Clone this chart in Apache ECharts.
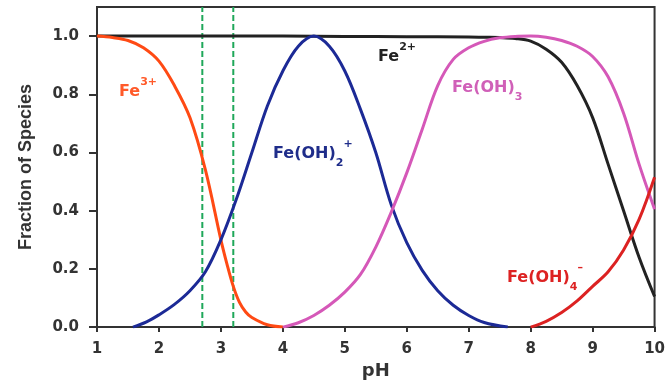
<!DOCTYPE html>
<html>
<head>
<meta charset="utf-8">
<script src="https://cdn.jsdelivr.net/npm/echarts@6/dist/echarts.min.js"></script>
<style>html,body{margin:0;padding:0;background:#fff}#c{width:668px;height:385px}</style>
</head>
<body>
<div id="c"></div>
<script>
// ---- data ----
const xTicks = [1, 2, 3, 4, 5, 6, 7, 8, 9, 10];
const yTicks = [0, 0.2, 0.4, 0.6, 0.8, 1.0];

const fe3pH  = [1, 1.25, 1.5, 1.75, 2.0, 2.25, 2.5, 2.75, 3.0, 3.1, 3.2, 3.3, 3.4, 3.5, 3.75, 4.0];
const fe3Val = [1.0, 0.995, 0.985, 0.96, 0.914, 0.83, 0.72, 0.54, 0.30, 0.215, 0.14, 0.085, 0.052, 0.033, 0.008, 0];

const fe2pH  = [1, 2, 3, 4, 5, 6, 7, 7.25, 7.5, 7.75, 8.0, 8.25, 8.5, 8.75, 9.0, 9.25, 9.5, 9.75, 10];
const fe2Val = [1.0, 1.0, 1.0, 1.0, 0.999, 0.998, 0.997, 0.996, 0.995, 0.992, 0.983, 0.955, 0.91, 0.83, 0.72, 0.56, 0.40, 0.24, 0.105];

const oh2pH  = [1.58, 1.8, 2.0, 2.25, 2.5, 2.75, 3.0, 3.25, 3.5, 3.75, 4.0, 4.25, 4.5, 4.75, 5.0, 5.25, 5.5, 5.75, 6.0, 6.25, 6.5, 6.75, 7.0, 7.25, 7.63];
const oh2Val = [0, 0.018, 0.042, 0.078, 0.125, 0.19, 0.30, 0.44, 0.60, 0.76, 0.88, 0.965, 1.0, 0.965, 0.88, 0.75, 0.60, 0.42, 0.29, 0.195, 0.125, 0.075, 0.04, 0.016, 0];

const oh3pH  = [4.0, 4.25, 4.5, 4.75, 5.0, 5.25, 5.5, 5.75, 6.0, 6.25, 6.5, 6.75, 7.0, 7.25, 7.5, 7.75, 8.0, 8.25, 8.5, 8.75, 9.0, 9.25, 9.5, 9.75, 10.0];
const oh3Val = [0, 0.015, 0.04, 0.075, 0.12, 0.18, 0.275, 0.395, 0.53, 0.68, 0.83, 0.92, 0.96, 0.982, 0.994, 0.999, 1.0, 0.996, 0.985, 0.965, 0.93, 0.86, 0.735, 0.56, 0.405];

const oh4pH  = [8.0, 8.25, 8.5, 8.75, 9.0, 9.25, 9.5, 9.75, 10.0];
const oh4Val = [0, 0.02, 0.05, 0.09, 0.14, 0.19, 0.265, 0.37, 0.515];

const dashedPH = [2.7, 3.2];
const yTop = 1.1;

const zip = (xs, ys) => xs.map((x, i) => [x, ys[i]]);

const chart = echarts.init(document.getElementById('c'));
const tickFont = { fontFamily: 'DejaVu Sans', fontWeight: 'bold', fontSize: 15, color: '#333' };
const mkLine = (name, xs, ys, color) => ({
  name, type: 'line', data: zip(xs, ys), showSymbol: false, smooth: 0.35,
  lineStyle: { color, width: 3 }, z: 3, silent: true
});
const dashSeries = dashedPH.map((p, i) => ({
  name: 'dash' + i, type: 'line', data: [[p, 0], [p, yTop]], showSymbol: false, z: 2, silent: true,
  lineStyle: { color: '#1fa85a', width: 2, type: [6, 3] }
}));

const rich = (c) => ({
  m: { fontFamily: 'DejaVu Sans', fontWeight: 'bold', fontSize: 16, lineHeight: 30, fill: c },
  sup: { fontFamily: 'DejaVu Sans', fontWeight: 'bold', fontSize: 11, lineHeight: 10, verticalAlign: 'top', fill: c },
  sub: { fontFamily: 'DejaVu Sans', fontWeight: 'bold', fontSize: 11, lineHeight: 18, verticalAlign: 'bottom', fill: c }
});
const lbl = (left, top, text, c) => ({
  type: 'text', left, top, silent: true, z: 10,
  style: { text, rich: rich(c), fill: c, fontFamily: 'DejaVu Sans', fontWeight: 'bold', fontSize: 16 }
});

chart.setOption({
  animation: false,
  backgroundColor: '#fff',
  grid: { left: 97, right: 12, top: 7, bottom: 57, show: true, borderColor: '#333', borderWidth: 2, backgroundColor: 'transparent' },
  xAxis: {
    type: 'value', min: 1, max: 10, interval: 1,
    name: 'pH', nameLocation: 'middle', nameGap: 32,
    nameTextStyle: { fontFamily: 'DejaVu Sans', fontWeight: 'bold', fontSize: 18, color: '#333' },
    axisLine: { show: true, lineStyle: { color: '#333', width: 2 } },
    axisTick: { show: true, length: 5, lineStyle: { color: '#333', width: 2 }, customValues: xTicks },
    axisLabel: Object.assign({ margin: 15, customValues: xTicks, formatter: v => String(v) }, tickFont),
    splitLine: { show: false }
  },
  yAxis: {
    type: 'value', min: 0, max: yTop, interval: 0.2,
    name: 'Fraction of Species', nameLocation: 'middle', nameGap: 62, nameRotate: 90,
    nameTextStyle: { fontFamily: 'Liberation Sans', fontWeight: 'bold', fontSize: 18, color: '#333' },
    axisLine: { show: true, lineStyle: { color: '#333', width: 2 } },
    axisTick: { show: true, length: 8, lineStyle: { color: '#333', width: 2 }, customValues: yTicks },
    axisLabel: Object.assign({ margin: 18, customValues: yTicks, formatter: v => v.toFixed(1) }, tickFont),
    splitLine: { show: false }
  },
  series: [
    ...dashSeries,
    mkLine('Fe2+', fe2pH, fe2Val, '#222222'),
    mkLine('Fe3+', fe3pH, fe3Val, '#ff4a14'),
    mkLine('Fe(OH)2+', oh2pH, oh2Val, '#1c2a96'),
    mkLine('Fe(OH)3', oh3pH, oh3Val, '#d558b8'),
    mkLine('Fe(OH)4-', oh4pH, oh4Val, '#dc2222')
  ],
  graphic: [
    lbl(119, 77, '{m|Fe}{sup|3+}', '#ff5a2a'),
    lbl(378, 42, '{m|Fe}{sup|2+}', '#222222'),
    lbl(273, 139, '{m|Fe(OH)}{sub|2}{sup|+}', '#1f2d8a'),
    lbl(452, 80, '{m|Fe(OH)}{sub|3}', '#d060b8'),
    lbl(507, 263, '{m|Fe(OH)}{sub|4}{sup|\u2013}', '#dd2222')
  ]
});
</script>
</body>
</html>
